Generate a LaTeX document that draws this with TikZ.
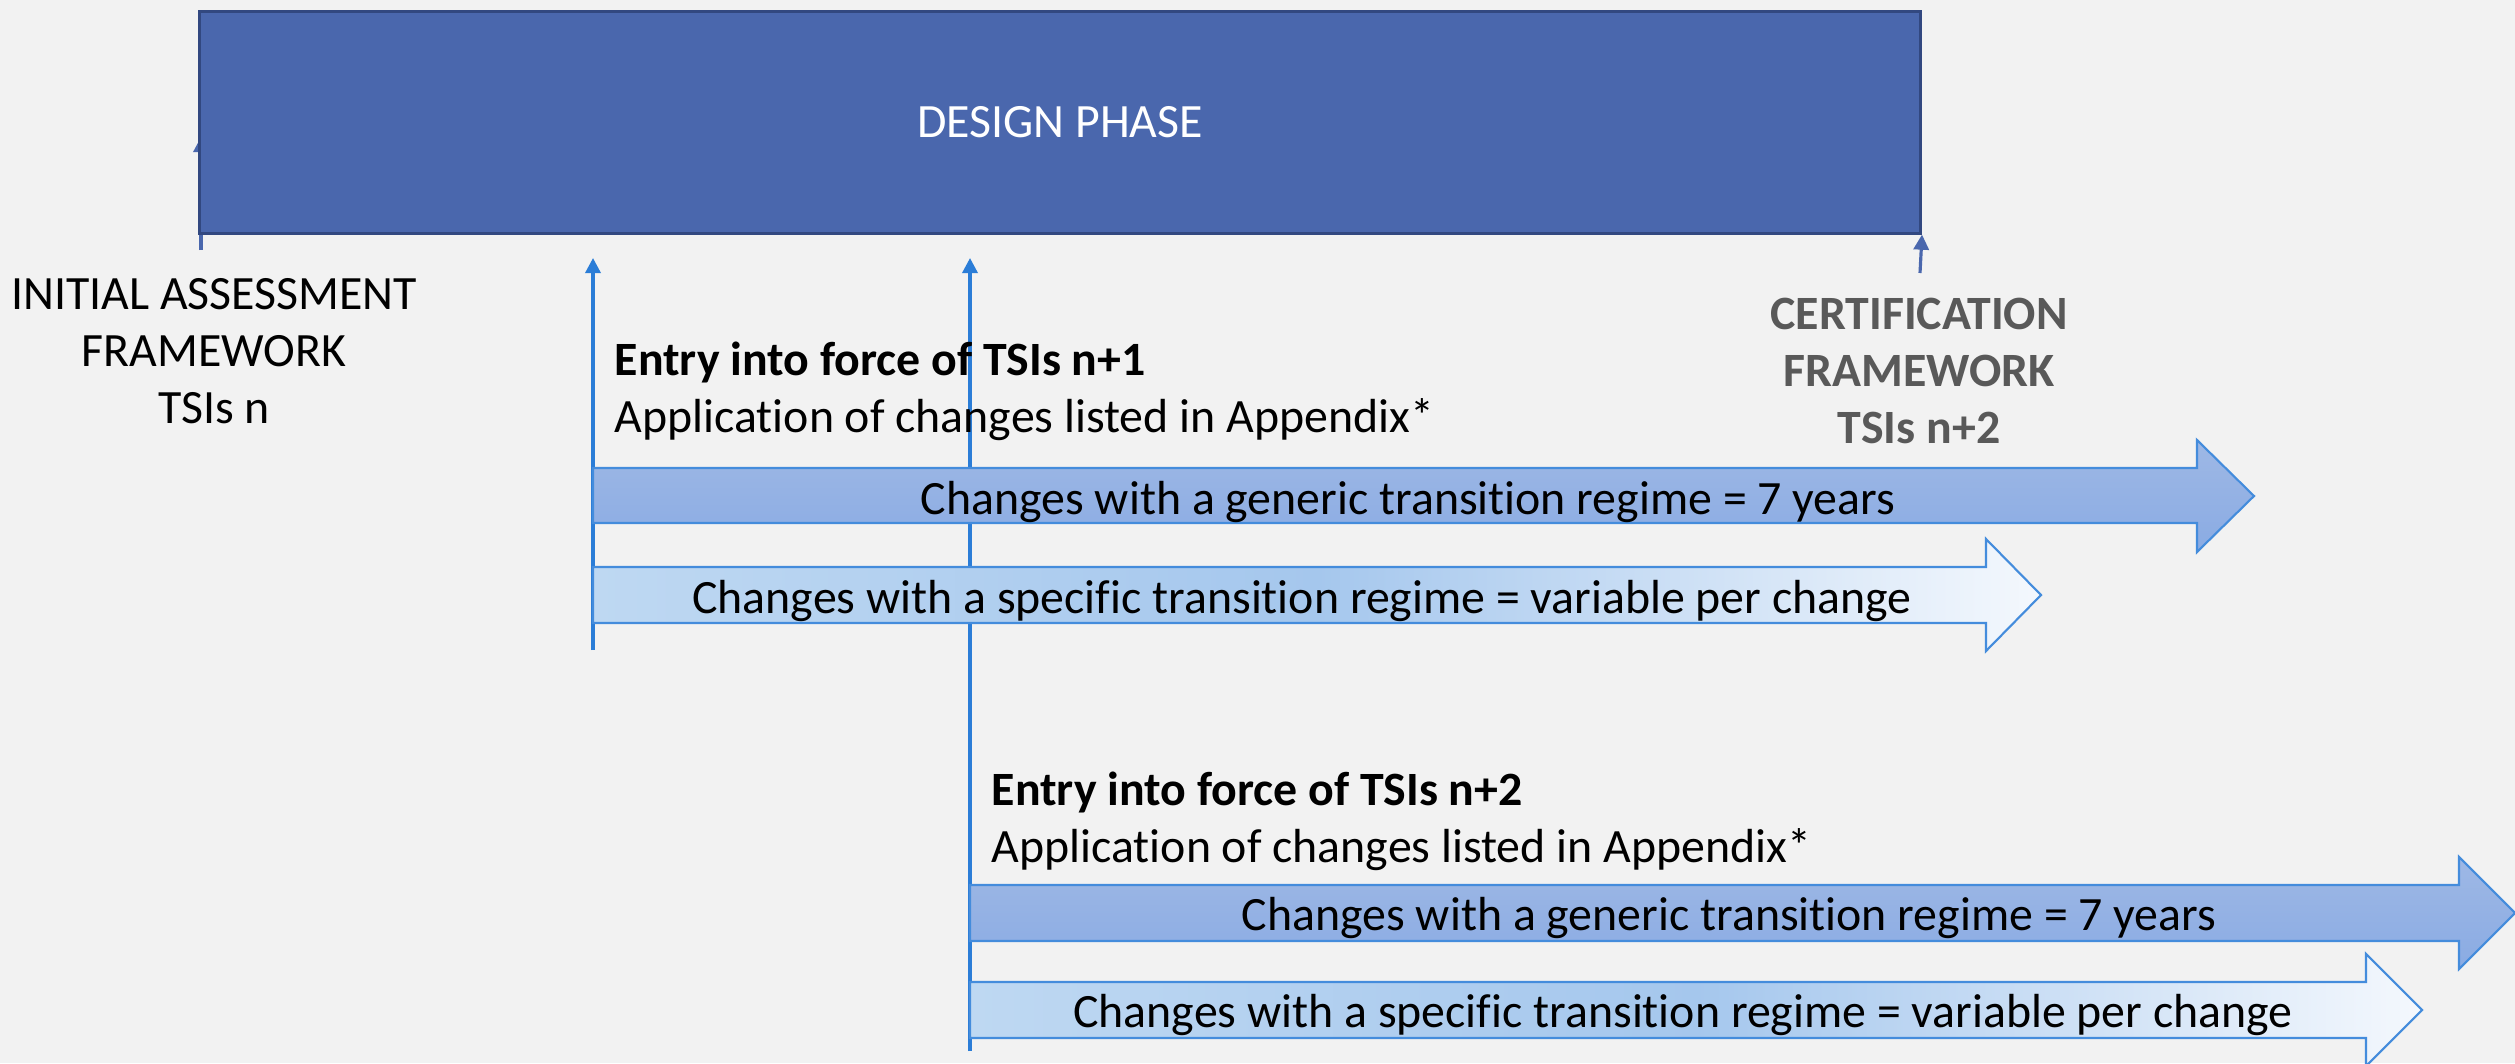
\documentclass[tikz,border=0pt]{standalone}
\usepackage{fontspec}
\setmainfont[Ligatures=NoCommon]{Carlito}
\usetikzlibrary{%
	arrows.meta,%
	calc
}

\definecolor{bgcol}{RGB}{242,242,242}
\definecolor{phasefill}{RGB}{74,103,173}
\definecolor{phaseline}{RGB}{50,72,128}
\definecolor{milecol}{RGB}{43,125,215}
\definecolor{barline}{RGB}{68,140,220}
\definecolor{gentop}{RGB}{158,184,229}
\definecolor{genbot}{RGB}{138,171,227}
\definecolor{specleft}{RGB}{190,216,242}
\definecolor{specmid}{RGB}{165,199,237}
\definecolor{specright}{RGB}{244,248,253}
\definecolor{certgrey}{RGB}{89,89,89}

\tikzset{
	every node/.style={font=\fontsize{13.6}{16.3}\selectfont},
	milestone/.style={draw=milecol, line width=0.95pt, -{Triangle[width=4.3pt,length=4.3pt]}},
	phasetick/.style={draw=phasefill, line width=0.9pt, -{Triangle[width=4.3pt,length=4.3pt]}},
	genbar/.style={draw=barline, line width=0.6pt, top color=gentop, bottom color=genbot},
	specbar/.style={draw=barline, line width=0.6pt, left color=specleft, right color=specright, middle color=specmid},
	entry/.style={anchor=base west, inner sep=0pt}
}

\begin{document}
\begin{tikzpicture}[x=0.01cm, y=-0.01cm]
	% Background
	\fill[bgcol] (0,0) rectangle (2515,1063);
	\useasboundingbox (0,0) rectangle (2515,1063);
	
	% Ticks at both ends of the design phase
	\coordinate (initfoot) at (201,250);
	\coordinate (inittip) at (201,137);
	\draw[phasetick] (initfoot) -- (inittip);
	
	% Design phase block
	\node (design) [draw=phaseline, line width=0.85pt, fill=phasefill, text=white,
		minimum width=17.2cm, minimum height=2.21cm] at (1060,122.5) {DESIGN PHASE};
	
	\coordinate (certfoot) at (1920,273);
	\draw[phasetick] (certfoot) -- (design.south east);
	
	% Frameworks
	\node (initial) [align=center] at (214,351) {INITIAL ASSESSMENT\\FRAMEWORK\\TSIs n};
	\node (cert) [align=center, text=certgrey, font=\fontsize{13.6}{16.3}\selectfont\bfseries] at (1919,371)
		{CERTIFICATION\\FRAMEWORK\\TSIs n+2};
	
	% Entry into force markers
	\coordinate (footA) at (593,650);
	\coordinate (tipA) at (593,258);
	\coordinate (footB) at (970,1051);
	\coordinate (tipB) at (970,258);
	\draw[milestone] (footA) -- (tipA);
	\draw[milestone] (footB) -- (tipB);
	
	% Block arrows of TSIs n+1
	\draw[genbar] (593,468) -- (2197,468) -- (2197,440) -- (2254,496)
		-- (2197,552) -- (2197,523) -- (593,523) -- cycle;
	\draw[specbar] (593,567) -- (1986,567) -- (1986,539) -- (2041,595)
		-- (1986,651) -- (1986,623) -- (593,623) -- cycle;
	
	% Block arrows of TSIs n+2
	\draw[genbar] (970,885) -- (2459,885) -- (2459,857) -- (2515,913)
		-- (2459,969) -- (2459,941) -- (970,941) -- cycle;
	\draw[specbar] (970,982) -- (2366,982) -- (2366,954) -- (2422,1010)
		-- (2366,1066) -- (2366,1038) -- (970,1038) -- cycle;
	
	% Texts of TSIs n+1
	\node (entryA) [entry] at (614,375) {\bfseries Entry into force of TSIs n+1};
	\node (applA) [entry] at (614,432) {Application of changes listed in Appendix*};
	\node (genA) at (1408,502) {Changes with a generic transition regime = 7 years};
	\node (specA) at (1302,601) {Changes with a specific transition regime = variable per change};
	
	% Texts of TSIs n+2
	\node (entryB) [entry] at (991,805) {\bfseries Entry into force of TSIs n+2};
	\node (applB) [entry] at (991,862) {Application of changes listed in Appendix*};
	\node (genB) at (1729,918) {Changes with a generic transition regime = 7 years};
	\node (specB) at (1683,1015) {Changes with a specific transition regime = variable per change};
\end{tikzpicture}
\end{document}
